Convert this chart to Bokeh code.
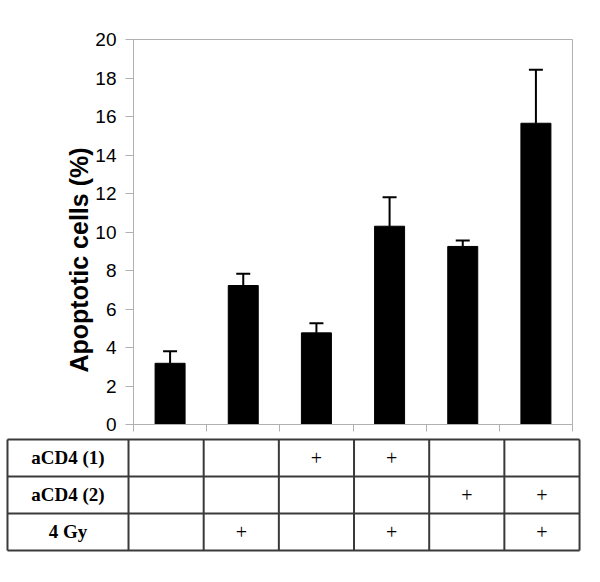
from bokeh.plotting import figure
from bokeh.models import (ColumnDataSource, Range1d, FixedTicker, Whisker, TeeHead, Title,
                          CustomJSTickFormatter)
from bokeh.embed import file_html
from bokeh.resources import INLINE
from bokeh.core.properties import value

# ---- data ----
groups = ["G1", "G2", "G3", "G4", "G5", "G6"]
apoptotic = [3.18, 7.22, 4.76, 10.3, 9.25, 15.65]
error_up = [0.62, 0.61, 0.50, 1.50, 0.31, 2.78]
y_ticks = [0, 2, 4, 6, 8, 10, 12, 14, 16, 18, 20]
y_title = "Apoptotic cells (%)"
row_labels = ["aCD4 (1)", "aCD4 (2)", "4 Gy"]
acd4_1 = ["", "", "+", "+", "", ""]
acd4_2 = ["", "", "", "", "+", "+"]
gy_4 = ["", "+", "", "+", "", "+"]

n = len(groups)
xs = [i + 0.5 for i in range(n)]
src = ColumnDataSource(dict(
    x=xs, top=apoptotic,
    upper=[a + e for a, e in zip(apoptotic, error_up)],
))

GRAY = "#b0b0b0"

chart = figure(width=584, height=434, x_range=Range1d(0, n), y_range=Range1d(0, 20),
               output_backend="svg", toolbar_location=None,
               min_border_top=39, min_border_left=133, min_border_right=12,
               min_border_bottom=10)
chart.grid.visible = False
chart.outline_line_color = GRAY
chart.outline_line_width = 1
chart.background_fill_color = "white"
chart.border_fill_color = "white"

chart.vbar(x="x", top="top", bottom=0, width=0.41, source=src,
           fill_color="black", line_color="black")
chart.add_layout(Whisker(source=src, base="x", upper="upper", lower="top",
                         dimension="height", line_width=2, line_color="black",
                         upper_head=TeeHead(size=14, line_width=2, line_color="black"),
                         lower_head=None))

ya = chart.yaxis[0]
ya.ticker = FixedTicker(ticks=y_ticks)
ya.axis_line_color = GRAY
ya.major_tick_line_color = GRAY
ya.major_tick_out = 8
ya.major_tick_in = 0
ya.minor_tick_line_color = None
ya.major_label_text_font = "Liberation Sans"
ya.major_label_text_font_size = "19px"
ya.major_label_text_color = "black"
ya.major_label_standoff = 9

chart.add_layout(Title(text=y_title, align="left", offset=52, standoff=0,
                       text_font="Liberation Sans", text_font_size="25px",
                       text_font_style="bold", text_color="black"), "left")

xa = chart.xaxis[0]
xa.ticker = FixedTicker(ticks=list(range(n + 1)))
xa.axis_line_color = GRAY
xa.major_tick_line_color = GRAY
xa.major_tick_out = 7
xa.major_tick_in = 0
xa.minor_tick_line_color = None
xa.formatter = CustomJSTickFormatter(code="return ''")
xa.major_label_standoff = 0

# ---- table ----
label_left = -1.61
table = figure(width=584, height=140, x_range=Range1d(-1.703, 6.066),
               y_range=Range1d(-0.649, 3.135), output_backend="svg",
               toolbar_location=None, x_axis_type=None, y_axis_type=None,
               min_border=0)
table.grid.visible = False
table.outline_line_color = None
table.background_fill_color = "white"
table.border_fill_color = "white"

nrows = len(row_labels)
LINE = "#3a3a3a"
table.segment(x0=[label_left] * (nrows + 1), x1=[n] * (nrows + 1),
              y0=list(range(nrows + 1)), y1=list(range(nrows + 1)),
              line_color=LINE, line_width=2)
vx = [label_left] + list(range(n + 1))
table.segment(x0=vx, x1=vx, y0=[0] * len(vx), y1=[nrows] * len(vx),
              line_color=LINE, line_width=2)

row_y = [nrows - 0.5 - i for i in range(nrows)]
table.text(x=[(label_left + 0) / 2] * nrows, y=row_y, text=row_labels,
           text_font=value("Liberation Serif"), text_font_style="bold",
           text_font_size="19px", text_align="center", text_baseline="middle",
           text_color="black")

cell_x, cell_y, cell_t = [], [], []
for r, flags in enumerate([acd4_1, acd4_2, gy_4]):
    for i, f in enumerate(flags):
        if f:
            cell_x.append(xs[i])
            cell_y.append(row_y[r])
            cell_t.append(f)
table.text(x=cell_x, y=cell_y, text=cell_t, text_font=value("Liberation Serif"),
           text_font_size="20px", text_align="center", text_baseline="middle",
           text_color="black")

open("out.html", "w").write(file_html([chart, table], INLINE))
